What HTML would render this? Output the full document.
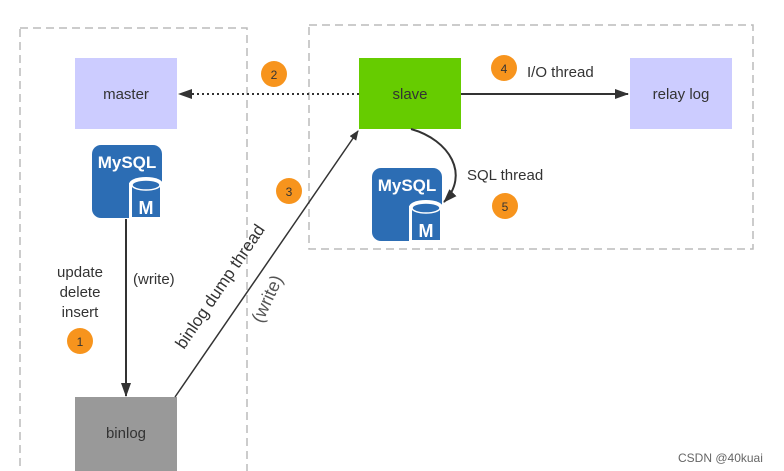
<!DOCTYPE html>
<html><head><meta charset="utf-8"><style>
html,body{margin:0;padding:0;background:#fff;}
svg{display:block;font-family:"Liberation Sans","Noto Sans CJK SC",sans-serif;}
</style></head><body>
<svg width="784" height="471" viewBox="0 0 784 471" xmlns="http://www.w3.org/2000/svg">
<defs>
<marker id="ar" markerWidth="10" markerHeight="8" refX="9" refY="4" orient="auto" markerUnits="userSpaceOnUse"><path d="M0,0 L10,4 L0,8 Z" fill="#333"/></marker>
<marker id="ar2" markerWidth="14" markerHeight="10" refX="13" refY="5" orient="auto" markerUnits="userSpaceOnUse"><path d="M0,0 L14,5 L0,10 Z" fill="#333"/></marker>
<g id="mysql">
<rect x="0" y="0" width="70" height="73" rx="9" fill="#2c6db4"/>
<text x="35" y="23" font-size="17" font-weight="bold" fill="#fff" text-anchor="middle">MySQL</text>
<rect x="37" y="38" width="34" height="36" fill="#fff"/>
<ellipse cx="54" cy="39" rx="17" ry="7" fill="#fff"/>
<rect x="40" y="40" width="28" height="32" fill="#2c6db4"/>
<ellipse cx="54" cy="40" rx="14" ry="5" fill="#2c6db4" stroke="#fff" stroke-width="1.5"/>
<text x="54" y="69" font-size="18" font-weight="bold" fill="#fff" text-anchor="middle">M</text>
</g>
</defs>
<rect x="20" y="28" width="227" height="460" fill="none" stroke="#bbb" stroke-width="1.5" stroke-dasharray="8,5"/>
<rect x="309" y="25" width="444" height="224" fill="none" stroke="#bbb" stroke-width="1.5" stroke-dasharray="8,5"/>
<rect x="75" y="58" width="102" height="71" fill="#ccccff"/>
<text x="126" y="99" font-size="15" fill="#333" text-anchor="middle">master</text>
<rect x="359" y="58" width="102" height="71" fill="#66cc00"/>
<text x="410" y="99" font-size="15" fill="#333" text-anchor="middle">slave</text>
<rect x="630" y="58" width="102" height="71" fill="#ccccff"/>
<text x="681" y="99" font-size="15" fill="#333" text-anchor="middle">relay log</text>
<rect x="75" y="397" width="102" height="80" fill="#999"/>
<text x="126" y="438" font-size="15" fill="#333" text-anchor="middle">binlog</text>
<use href="#mysql" x="92" y="145"/>
<use href="#mysql" x="372" y="168"/>
<line x1="359" y1="94" x2="179" y2="94" stroke="#333" stroke-width="2" stroke-dasharray="2,3" marker-end="url(#ar2)"/>
<line x1="461" y1="94" x2="628" y2="94" stroke="#333" stroke-width="2" marker-end="url(#ar2)"/>
<line x1="126" y1="219" x2="126" y2="396" stroke="#333" stroke-width="2" marker-end="url(#ar2)"/>
<line x1="175" y1="397" x2="358" y2="131" stroke="#333" stroke-width="1.5" marker-end="url(#ar)"/>
<path d="M411,129 C450,140 470,175 444,202" fill="none" stroke="#333" stroke-width="2" marker-end="url(#ar2)"/>
<text x="527" y="77" font-size="15" fill="#333">I/O thread</text>
<text x="467" y="180" font-size="15" fill="#333">SQL thread</text>
<text x="80" y="277" font-size="15" fill="#333" text-anchor="middle">update</text>
<text x="80" y="297" font-size="15" fill="#333" text-anchor="middle">delete</text>
<text x="80" y="317" font-size="15" fill="#333" text-anchor="middle">insert</text>
<text x="133" y="284" font-size="15" fill="#333">(write)</text>
<text transform="translate(184,350) rotate(-56)" font-size="17" fill="#333">binlog dump thread</text>
<text transform="translate(262,324) rotate(-65)" font-size="18" fill="#555">(write)</text>
<g font-size="12" fill="#333" text-anchor="middle">
<circle cx="80" cy="341" r="13" fill="#f7941d"/><text x="80" y="346">1</text>
<circle cx="274" cy="74" r="13" fill="#f7941d"/><text x="274" y="79">2</text>
<circle cx="289" cy="191" r="13" fill="#f7941d"/><text x="289" y="196">3</text>
<circle cx="504" cy="68" r="13" fill="#f7941d"/><text x="504" y="73">4</text>
<circle cx="505" cy="206" r="13" fill="#f7941d"/><text x="505" y="211">5</text>
</g>
<text x="678" y="462" font-size="12" fill="#666">CSDN @40kuai</text>
</svg>
</body></html>
